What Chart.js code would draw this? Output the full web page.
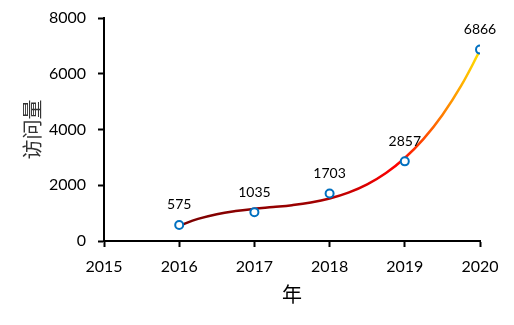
<!DOCTYPE html>
<html>
<head>
<meta charset="utf-8">
<script src="https://cdn.jsdelivr.net/npm/chart.js@4"></script>
<style>
    html, body { margin: 0; padding: 0; background: #fff; }
    canvas { display: block; }
</style>
</head>
<body>
<canvas id="chart" width="514" height="325"></canvas>
<script>
// Visits per year
const years = [2016, 2017, 2018, 2019, 2020];
const visits = [575, 1035, 1703, 2857, 6866];
// Trend line (quarter-year steps)
const trendYears = [2016, 2016.25, 2016.5, 2016.75, 2017, 2017.25, 2017.5, 2017.75, 2018,
    2018.25, 2018.5, 2018.75, 2019, 2019.25, 2019.5, 2019.75, 2020];
const trendVisits = [545, 792, 963, 1076, 1155, 1218, 1286, 1382, 1524,
    1734, 2032, 2439, 2977, 3664, 4523, 5573, 6836];
const yTicks = [0, 2000, 4000, 6000, 8000];
const xTicks = [2015, 2016, 2017, 2018, 2019, 2020];

const tickFont = { family: 'Lato', size: 16 };
const titleFont = { family: '"Noto Sans CJK SC"', size: 20 };

// Gradient along x for the trend line
function trendGradient(context) {
    const chart = context.chart;
    if (!chart.chartArea)
        return '#800000';
    const xScale = chart.scales.x;
    const x0 = xScale.getPixelForValue(years[0]);
    const x1 = xScale.getPixelForValue(years[years.length - 1]);
    const g = chart.ctx.createLinearGradient(x0, 0, x1, 0);
    g.addColorStop(0, '#7a0000');
    g.addColorStop(0.45, '#a00000');
    g.addColorStop(0.72, '#ff0000');
    g.addColorStop(0.88, '#ff8000');
    g.addColorStop(1, '#ffe000');
    return g;
}

// Value labels above the markers
const valueLabels = {
    id: 'valueLabels',
    afterDatasetsDraw(chart) {
        const ctx = chart.ctx;
        const meta = chart.getDatasetMeta(0);
        ctx.save();
        ctx.font = '14px Lato';
        ctx.fillStyle = '#000';
        ctx.textAlign = 'center';
        ctx.textBaseline = 'middle';
        meta.data.forEach((pt, i) => {
            ctx.fillText(String(visits[i]), pt.x, pt.y - 20);
        });
        ctx.restore();
    }
};

const axisGrid = {
    display: true,
    drawOnChartArea: false,
    drawTicks: true,
    tickLength: 6,
    tickWidth: 2,
    tickColor: '#000'
};

new Chart(document.getElementById('chart'), {
    type: 'scatter',
    data: {
        datasets: [{
                label: 'visits',
                data: years.map((y, i) => ({ x: y, y: visits[i] })),
                pointRadius: 4,
                pointBorderWidth: 2,
                pointBorderColor: '#0070c0',
                pointBackgroundColor: '#fff',
                showLine: false
            }, {
                label: 'trend',
                data: trendYears.map((y, i) => ({ x: y, y: trendVisits[i] })),
                showLine: true,
                pointRadius: 0,
                borderWidth: 2.5,
                tension: 0.4,
                borderColor: trendGradient
            }]
    },
    options: {
        responsive: false,
        animation: false,
        devicePixelRatio: 1,
        layout: { padding: { left: 0, right: 34, top: 18, bottom: 0 } },
        plugins: {
            legend: { display: false },
            tooltip: { enabled: false }
        },
        scales: {
            x: {
                type: 'linear',
                min: xTicks[0],
                max: xTicks[xTicks.length - 1],
                afterBuildTicks: (scale) => { scale.ticks = xTicks.map(v => ({ value: v })); },
                afterFit: (scale) => {
                    scale.height = 84;
                    scale.paddingLeft = 0;
                    scale.paddingRight = 0;
                },
                ticks: {
                    font: tickFont,
                    color: '#000',
                    padding: 10,
                    maxRotation: 0,
                    callback: (v) => String(v)
                },
                grid: axisGrid,
                border: { display: true, color: '#000', width: 2 },
                title: {
                    display: true,
                    text: '年',
                    font: titleFont,
                    color: '#000',
                    padding: { top: 0, bottom: 19 }
                }
            },
            y: {
                min: yTicks[0],
                max: yTicks[yTicks.length - 1],
                afterBuildTicks: (scale) => { scale.ticks = yTicks.map(v => ({ value: v })); },
                afterFit: (scale) => {
                    scale.width = 104;
                    scale.paddingTop = 0;
                    scale.paddingBottom = 0;
                },
                ticks: {
                    font: tickFont,
                    color: '#000',
                    padding: 12,
                    callback: (v) => String(v)
                },
                grid: axisGrid,
                border: { display: true, color: '#000', width: 2 },
                title: {
                    display: true,
                    text: '访问量',
                    font: titleFont,
                    color: '#333',
                    padding: { top: 20, bottom: 0 }
                }
            }
        }
    },
    plugins: [valueLabels]
});
</script>
</body>
</html>
